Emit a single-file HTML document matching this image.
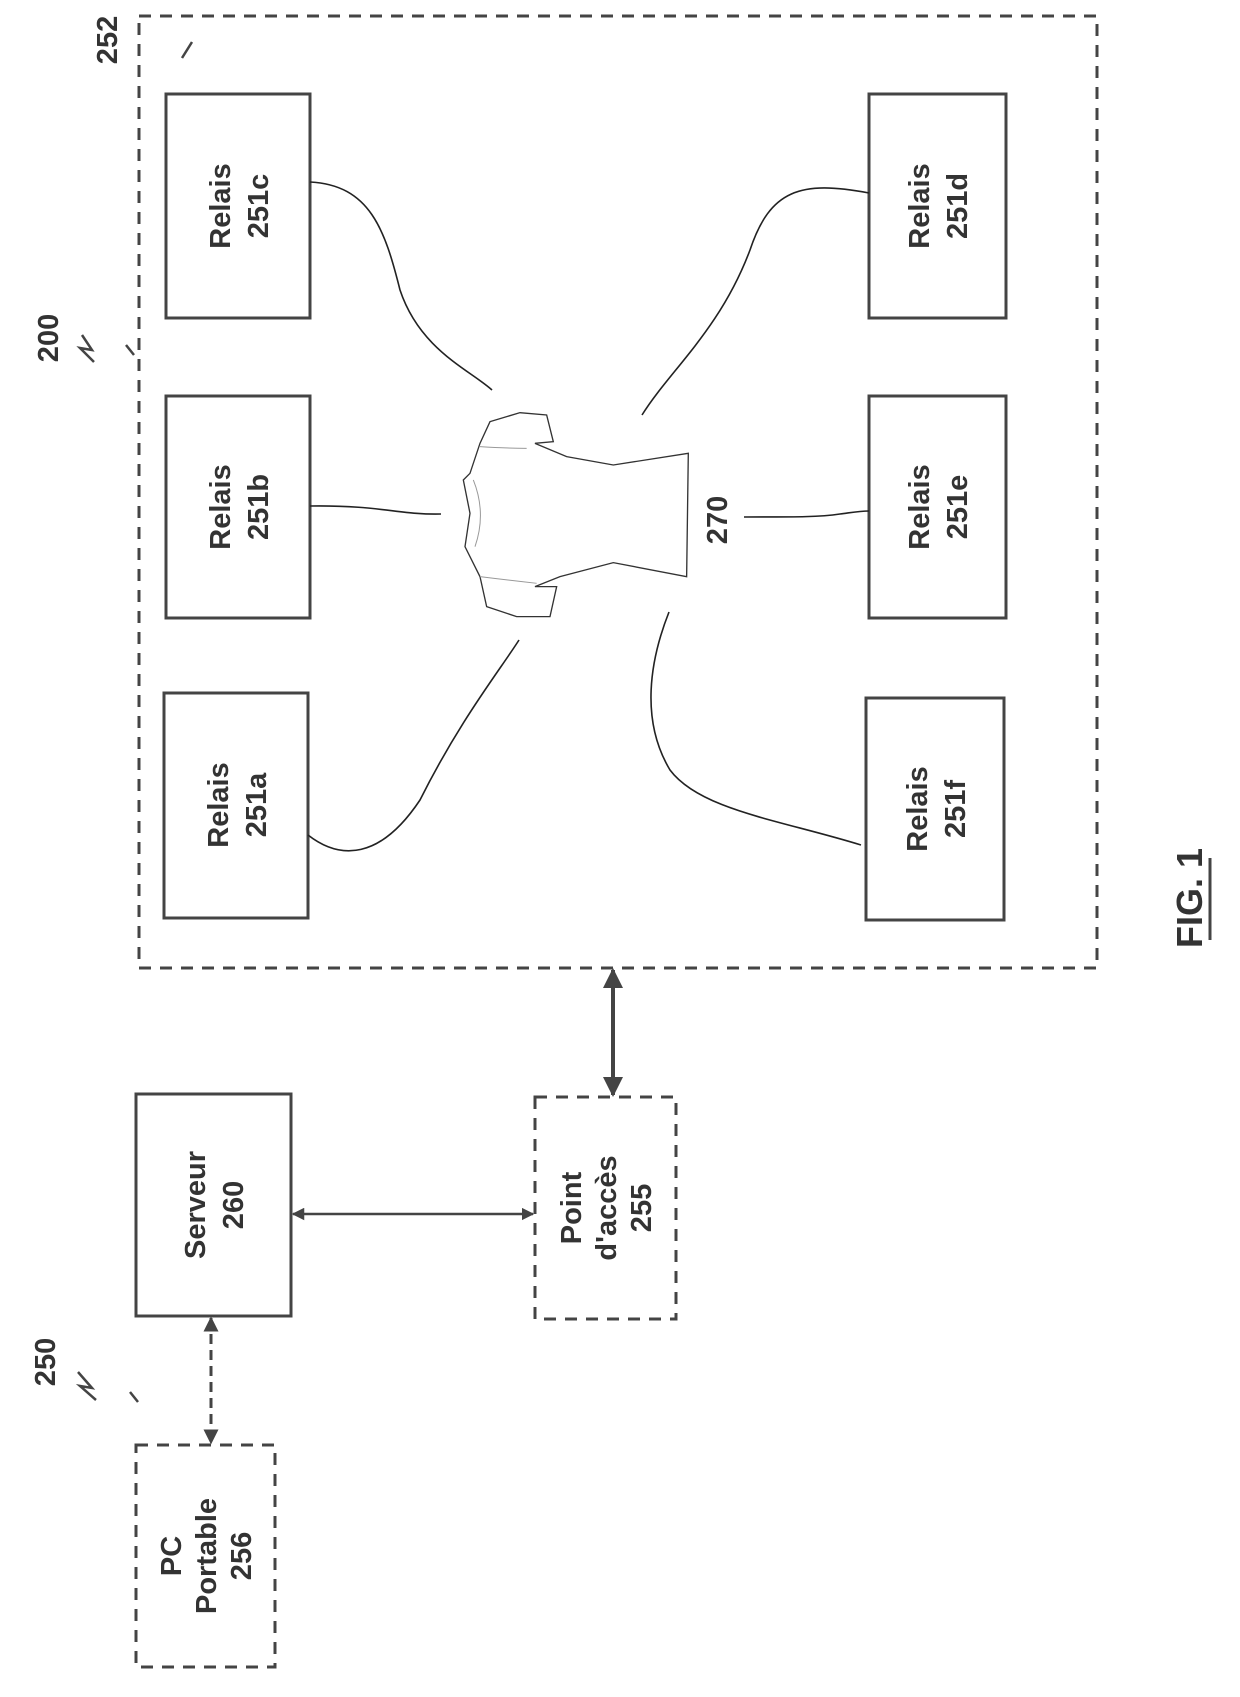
<!DOCTYPE html>
<html><head><meta charset="utf-8"><style>
html,body{margin:0;padding:0;background:#fff}
svg text{font-family:"Liberation Sans",sans-serif;font-weight:bold;fill:#333}
</style></head><body>
<svg width="1240" height="1692" viewBox="0 0 1240 1692" xmlns="http://www.w3.org/2000/svg">
<defs>
<marker id="ah" viewBox="0 0 10 10" refX="9" refY="5" markerWidth="5" markerHeight="5" orient="auto-start-reverse"><path d="M0,0 L10,5 L0,10 z" fill="#444"/></marker>
</defs>
<g fill="none" stroke="#444">
<rect x="139" y="16" width="958" height="952" stroke-width="3" stroke-dasharray="12,9"/>
<g stroke-width="3">
<rect x="166" y="94" width="144" height="224"/>
<rect x="166" y="396" width="144" height="222"/>
<rect x="164" y="693" width="144" height="225"/>
<rect x="869" y="94" width="137" height="224"/>
<rect x="869" y="396" width="137" height="222"/>
<rect x="866" y="698" width="138" height="222"/>
<rect x="136" y="1094" width="155" height="222"/>
</g>
<rect x="535" y="1097" width="141" height="222" stroke-width="3" stroke-dasharray="12,9"/>
<rect x="136" y="1445" width="139" height="222" stroke-width="3" stroke-dasharray="12,9"/>
<g stroke-width="1.6" stroke="#222">
<path d="M310,182 C370,185 385,230 400,290 C420,350 470,370 492,390"/>
<path d="M310,506 C380,505 400,515 441,514"/>
<path d="M308,835 C340,860 380,860 420,800 C460,720 500,670 519,640"/>
<path d="M869,193 C800,180 770,190 750,250 C720,330 670,370 642,415"/>
<path d="M744,517 C800,517 820,517 840,514 C855,512 860,511 869,511"/>
<path d="M861,845 C780,820 700,810 670,770 C640,720 650,660 669,612"/>
</g>
<line x1="613" y1="970" x2="613" y2="1095" stroke-width="4" marker-start="url(#ah)" marker-end="url(#ah)"/>
<line x1="293" y1="1214" x2="533" y2="1214" stroke-width="2.5" marker-start="url(#ah)" marker-end="url(#ah)"/>
<line x1="211" y1="1318" x2="211" y2="1443" stroke-width="3" stroke-dasharray="10,6" marker-start="url(#ah)" marker-end="url(#ah)"/>
<g transform="translate(380,360) scale(0.3333)" stroke="#333" stroke-width="4" fill="#fff">
<path d="M465,250 L520,245 L500,165 L420,158 L330,185 L300,250 L270,340 L250,360 L270,460 L255,560 L300,650 L320,740 L410,770 L510,770 L530,680 L465,680 L540,650 L700,608 L920,650 L925,280 L700,315 L560,290 Z"/>
<path d="M300,260 Q380,265 440,265 M300,650 Q380,660 470,670 M280,360 Q320,460 285,560" stroke="#999" stroke-width="3"/>
</g>
<path d="M192,42 L182,58 M82,335 L92,350 L80,348 L94,362 M126,345 L134,355 M78,1372 L92,1388 L80,1386 L96,1400 M130,1392 L138,1402" stroke-width="2.5"/>
<line x1="1210" y1="858" x2="1210" y2="940" stroke-width="3"/>
</g>
<g font-size="29" text-anchor="middle">
<g transform="translate(238,206) rotate(-90)"><text y="-8">Relais</text><text y="30">251c</text></g>
<g transform="translate(238,507) rotate(-90)"><text y="-8">Relais</text><text y="30">251b</text></g>
<g transform="translate(236,805) rotate(-90)"><text y="-8">Relais</text><text y="30">251a</text></g>
<g transform="translate(937,206) rotate(-90)"><text y="-8">Relais</text><text y="30">251d</text></g>
<g transform="translate(937,507) rotate(-90)"><text y="-8">Relais</text><text y="30">251e</text></g>
<g transform="translate(935,809) rotate(-90)"><text y="-8">Relais</text><text y="30">251f</text></g>
<g transform="translate(213,1205) rotate(-90)"><text y="-8">Serveur</text><text y="30">260</text></g>
<g transform="translate(605,1208) rotate(-90)"><text y="-24">Point</text><text y="11">d'accès</text><text y="46">255</text></g>
<g transform="translate(205,1556) rotate(-90)"><text y="-24">PC</text><text y="11">Portable</text><text y="46">256</text></g>
<text transform="translate(727,520) rotate(-90)">270</text>
<text transform="translate(117,40) rotate(-90)">252</text>
<text transform="translate(58,338) rotate(-90)">200</text>
<text transform="translate(55,1362) rotate(-90)">250</text>
<text transform="translate(1202,898) rotate(-90)" font-size="36">FIG. 1</text>
</g>
</svg>
</body></html>
